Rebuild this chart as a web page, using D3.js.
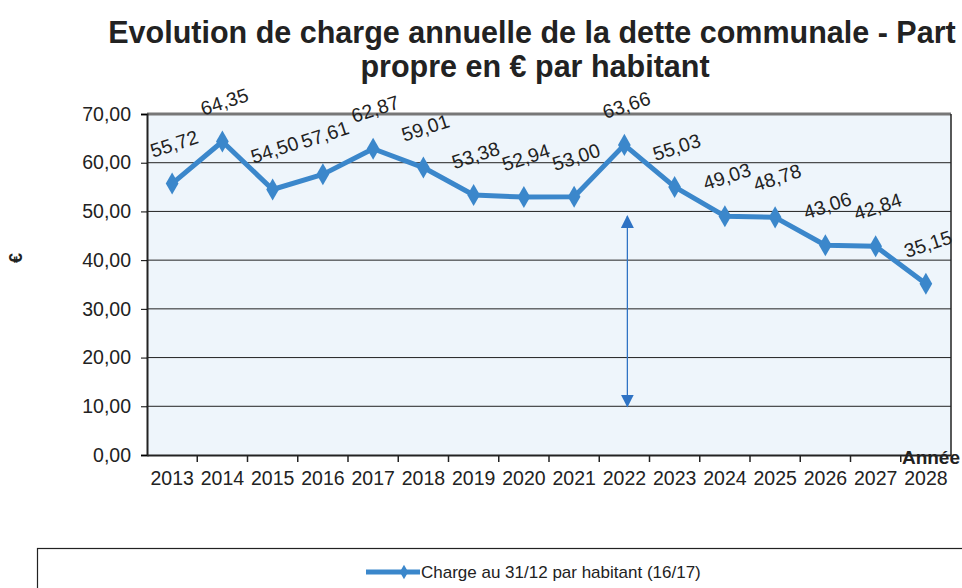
<!DOCTYPE html>
<html>
<head>
<meta charset="utf-8">
<title>Evolution de charge annuelle de la dette communale</title>
<script src="https://d3js.org/d3.v7.min.js"></script>
<style>
  body { margin: 0; background: #fff; }
  svg text { font-family: "Liberation Sans", Arial, sans-serif; fill: #222; }
  .title { font-weight: bold; font-size: 30.5px; text-anchor: middle; }
  .tick text { font-size: 19.5px; }
  .val { font-size: 19.5px; }
</style>
</head>
<body>
<div id="chart"></div>
<script>
// data
var years = ["2013", "2014", "2015", "2016", "2017", "2018", "2019", "2020",
             "2021", "2022", "2023", "2024", "2025", "2026", "2027", "2028"];
var charge = [55.72, 64.35, 54.50, 57.61, 62.87, 59.01, 53.38, 52.94,
              53.00, 63.66, 55.03, 49.03, 48.78, 43.06, 42.84, 35.15];
var yTicks = [0, 10, 20, 30, 40, 50, 60, 70];
var arrowYear = "2022";
var arrowRange = [10, 49];

var W = 962, H = 588;
var margin = { top: 114, right: 11, bottom: 133, left: 147 };
var width = W - margin.left - margin.right;
var height = H - margin.top - margin.bottom;
var blue = "#3b87cb";
var fmt = function (v) { return d3.format(".2f")(v).replace(".", ","); };

var svg = d3.select("#chart").append("svg")
    .attr("width", W)
    .attr("height", H);

// title
svg.append("text").attr("class", "title").attr("x", 532).attr("y", 43)
    .text("Evolution de charge annuelle de la dette communale - Part");
svg.append("text").attr("class", "title").attr("x", 535).attr("y", 77)
    .text("propre en € par habitant");

var g = svg.append("g")
    .attr("transform", "translate(" + margin.left + "," + margin.top + ")");

var x = d3.scaleBand().domain(years).range([0, width]);
var y = d3.scaleLinear().domain([0, 70]).range([height, 0]);

// plot background
g.append("rect")
    .attr("width", width).attr("height", height)
    .attr("fill", "#eef5fb");

// grid
g.selectAll(".grid").data(yTicks.slice(1, -1)).enter().append("line")
    .attr("class", "grid")
    .attr("x1", 0).attr("x2", width)
    .attr("y1", d => y(d)).attr("y2", d => y(d))
    .attr("stroke", "#222").attr("stroke-width", 1);

// top and right border
g.append("line").attr("x1", 0).attr("x2", width).attr("y1", 0).attr("y2", 0)
    .attr("stroke", "#777").attr("stroke-width", 3);
g.append("line").attr("x1", width).attr("x2", width).attr("y1", 0).attr("y2", height)
    .attr("stroke", "#222").attr("stroke-width", 1.5);

// y axis
var yAxis = g.append("g")
    .call(d3.axisLeft(y).tickValues(yTicks).tickFormat(fmt).tickSize(6).tickPadding(10));
yAxis.select(".domain").attr("stroke", "#222").attr("stroke-width", 2);

// x axis with ticks at band boundaries
var xAxis = g.append("g")
    .attr("transform", "translate(0," + height + ")")
    .call(d3.axisBottom(x).tickSize(0).tickPadding(16));
xAxis.select(".domain").attr("stroke", "#222").attr("stroke-width", 2);
xAxis.selectAll(".bound").data(years.slice(1)).enter().append("line")
    .attr("class", "bound")
    .attr("x1", d => x(d)).attr("x2", d => x(d))
    .attr("y1", 0).attr("y2", 7)
    .attr("stroke", "#222").attr("stroke-width", 1.5);

// axis titles
svg.append("text")
    .attr("transform", "translate(22,258) rotate(-90)")
    .attr("text-anchor", "middle")
    .style("font-size", "18px").style("font-weight", "bold")
    .text("€");
svg.append("text")
    .attr("x", 960).attr("y", 464)
    .attr("text-anchor", "end")
    .style("font-size", "19px").style("font-weight", "bold")
    .text("Année");

// double arrow
var ax = x(arrowYear) + x.bandwidth() / 2 + 3;
var defs = svg.append("defs");
defs.append("marker").attr("id", "head")
    .attr("viewBox", "0 0 10 10").attr("refX", 9).attr("refY", 5)
    .attr("markerWidth", 13).attr("markerHeight", 13).attr("orient", "auto-start-reverse")
    .attr("markerUnits", "userSpaceOnUse")
    .append("path").attr("d", "M0,0 L10,5 L0,10 z").attr("fill", "#2f73c4");
g.append("line")
    .attr("x1", ax).attr("x2", ax)
    .attr("y1", y(arrowRange[1])).attr("y2", y(arrowRange[0]))
    .attr("stroke", "#2f73c4").attr("stroke-width", 1.3)
    .attr("marker-start", "url(#head)").attr("marker-end", "url(#head)");

// line
var cx = d => x(d) + x.bandwidth() / 2;
var pts = years.map((d, i) => [cx(d), y(charge[i])]);
g.append("path")
    .attr("d", d3.line()(pts))
    .attr("fill", "none").attr("stroke", blue)
    .attr("stroke-width", 5).attr("stroke-linejoin", "round");

g.selectAll(".dot").data(pts).enter().append("path")
    .attr("class", "dot")
    .attr("transform", d => "translate(" + d[0] + "," + d[1] + ")")
    .attr("d", d3.symbol().type(d3.symbolDiamond).size(140))
    .attr("fill", blue);

// value labels
g.selectAll(".val").data(pts).enter().append("text")
    .attr("class", "val")
    .attr("text-anchor", "middle")
    .attr("dominant-baseline", "central")
    .attr("transform", d => "translate(" + (d[0] + 2) + "," + (d[1] - 40) + ") rotate(-18)")
    .text((d, i) => fmt(charge[i]));

// legend
svg.append("rect")
    .attr("x", 37.5).attr("y", 548.5).attr("width", 940).attr("height", 60)
    .attr("fill", "#fff").attr("stroke", "#222").attr("stroke-width", 1.2);
var lg = svg.append("g").attr("transform", "translate(366,572)");
lg.append("line").attr("x1", 0).attr("x2", 54).attr("y1", 0).attr("y2", 0)
    .attr("stroke", blue).attr("stroke-width", 5);
lg.append("path").attr("transform", "translate(38,0)")
    .attr("d", d3.symbol().type(d3.symbolDiamond).size(60)).attr("fill", blue);
lg.append("text").attr("x", 55).attr("y", 6)
    .style("font-size", "17px")
    .text("Charge au 31/12 par habitant (16/17)");
</script>
</body>
</html>
